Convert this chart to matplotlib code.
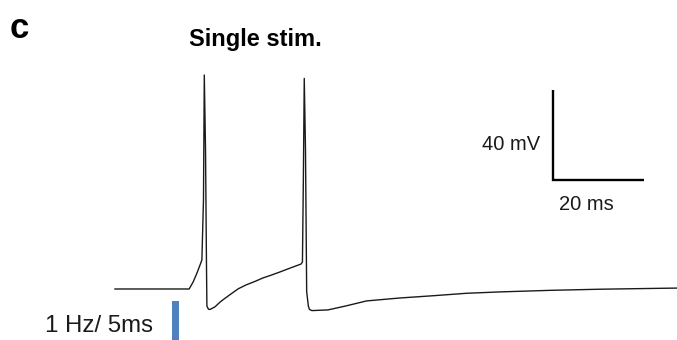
import matplotlib
matplotlib.use('Agg')

import matplotlib.pyplot as plt
import numpy as np


plt.rcParams['font.family'] = ['Liberation Sans', 'DejaVu Sans']

# membrane potential trace (ms, mV), single stimulus -> two spikes
time_ms = [0.0, 16.3, 17.2, 18.0, 18.7, 19.1, 19.45, 19.63, 19.9, 20.1, 20.2,
           20.55, 20.9, 22.0, 23.1, 24.2, 25.5, 27.1, 28.8, 30.8, 32.5, 34.4,
           36.3, 38.5, 40.9, 41.2, 41.4, 41.6, 41.87, 42.13, 42.5, 42.75, 43.3,
           46.8, 50.6, 55.3, 62.6, 69.9, 77.3, 84.6, 95.6, 106.6, 119.8, 123.5]
vm_mV = [-70.0, -70.0, -66.8, -63.0, -59.3, -57.1, -30.4, 25.1, -8.2, -57.1, -77.6,
         -79.0, -79.1, -77.9, -75.8, -74.1, -72.2, -69.9, -68.2, -66.6, -65.1, -63.8,
         -62.4, -60.7, -58.9, -58.0, -21.6, 23.6, -8.2, -71.2, -77.6, -79.1, -79.6,
         -79.3, -77.6, -75.3, -74.0, -73.0, -71.9, -71.3, -70.6, -70.1, -69.7, -69.6]

# stimulus marker
stim_t = 13.3
stim_w = 1.6
stim_top = -75.3

# scale bar
bar_t0 = 96.3
bar_v0 = -21.6
bar_mV = 40
bar_ms = 20

fig = plt.figure(figsize=(6.77, 3.4), dpi=100)
ax = fig.add_axes([0, 0, 1, 1])

ax.plot(time_ms, vm_mV, color='#1a1a1a', lw=1.0)

ax.bar(stim_t, stim_top + 100, bottom=-100, width=stim_w, color='#4f81bd')

ax.plot([bar_t0, bar_t0, bar_t0 + bar_ms], [bar_v0 + bar_mV, bar_v0, bar_v0],
        color='black', lw=1.7, solid_capstyle='butt', solid_joinstyle='miter')

ax.set_xlim(-25.27, 123.52)
ax.set_ylim(-92.67, 58.44)
ax.axis('off')

W, H = 677.0, 340.0
fig.text(10 / W, 1 - 37.5 / H, 'c', fontsize=25, fontweight='bold', va='baseline')
fig.text(255 / W, 1 - 46 / H, 'Single stim.', fontsize=17, fontweight='bold',
         ha='center', va='baseline')
fig.text(540 / W, 1 - 150 / H, '40 mV', fontsize=14.5, ha='right', va='baseline',
         color='#1a1a1a')
fig.text(586.5 / W, 1 - 209.5 / H, '20 ms', fontsize=14.5, ha='center', va='baseline',
         color='#1a1a1a')
fig.text(45 / W, 1 - 331.5 / H, '1 Hz/ 5ms', fontsize=17.3, va='baseline',
         color='#1a1a1a')

plt.savefig('out.png', dpi=100)
plt.close(fig)
